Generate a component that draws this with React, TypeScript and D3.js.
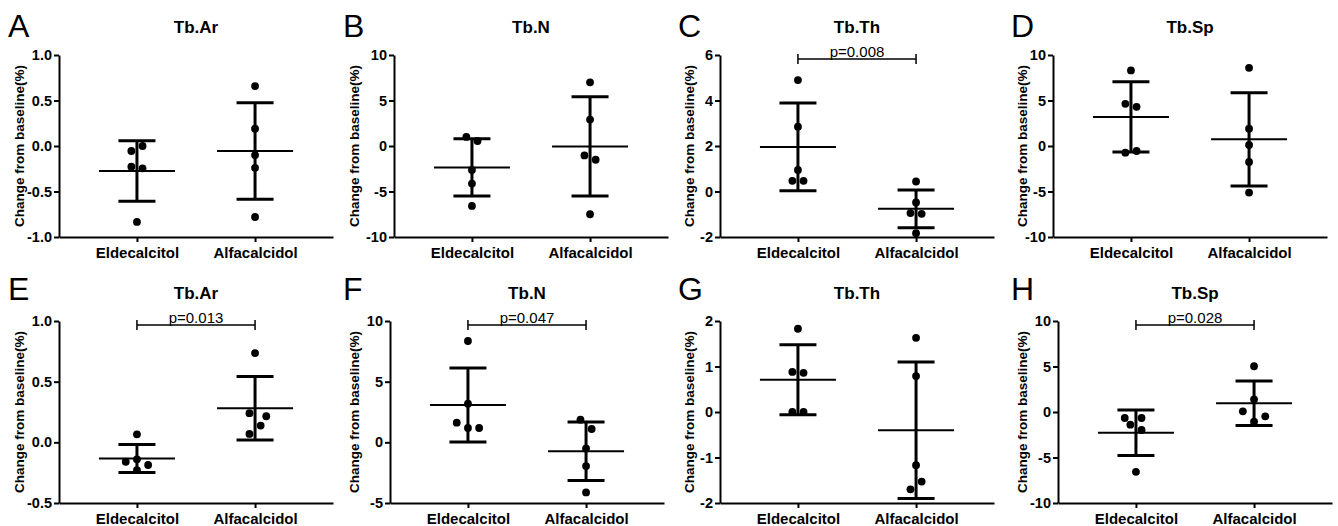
import React, { useEffect, useRef } from 'react';
import * as d3 from 'd3';

// panel info
const letters = ["A", "B", "C", "D", "E", "F", "G", "H"];
const titles = ["Tb.Ar", "Tb.N", "Tb.Th", "Tb.Sp", "Tb.Ar", "Tb.N", "Tb.Th", "Tb.Sp"];
const groups = ["Eldecalcitol", "Alfacalcidol"];
const yDomains = [[-1, 1], [-10, 10], [-2, 6], [-10, 10], [-0.5, 1], [-5, 10], [-2, 2], [-10, 10]];
const yTickSteps = [0.5, 5, 2, 5, 0.5, 5, 1, 5];
const pLabels = [null, null, "p=0.008", null, "p=0.013", "p=0.047", null, "p=0.028"];

// individual values (5 per group)
const eldValues = [
  [-0.055, 0.0, -0.227, -0.245, -0.834],
  [1.0, 0.55, -2.63, -4.13, -6.58],
  [4.9, 2.85, 0.95, 0.47, 0.47],
  [8.3, 4.64, 4.31, -0.73, -0.55],
  [0.066, -0.14, -0.16, -0.187, -0.229],
  [8.35, 3.19, 1.62, 1.18, 1.18],
  [1.83, 0.88, 0.86, 0.0, 0.0],
  [-0.66, -0.66, -1.39, -1.98, -6.57],
];
const alfValues = [
  [0.658, 0.19, -0.1, -0.24, -0.78],
  [7.0, 2.9, -1.04, -1.51, -7.5],
  [0.44, -0.48, -0.95, -0.98, -1.83],
  [8.59, 1.9, 0.11, -1.75, -5.12],
  [0.736, 0.24, 0.215, 0.138, 0.069],
  [1.87, 1.1, -0.5, -1.96, -4.13],
  [1.63, 0.79, -1.17, -1.53, -1.7],
  [5.03, 1.39, 0.07, -0.48, -1.06],
];
// scatter slot of each dot (sideways spreading of overlapping dots)
const eldSlots = [
  [-1, 1, -1, 1, 0],
  [-1, 1, 0, 0, 0],
  [0, 0, 0, -1, 1],
  [0, -1, 1, -1, 1],
  [0, 0, -2, 2, 0],
  [0, 0, -2, 0, 2],
  [0, -1, 1, -1, 1],
  [-2, 1, -1, 1, 0],
];
const alfSlots = [
  [0, 0, 0, 0, 0],
  [0, 0, -1, 1, 0],
  [0, 0, -1, 1, 0],
  [0, 0, 0, 0, 0],
  [0, -1, 2, 1, -1],
  [-1, 1, 0, 0, 0],
  [0, 0, 0, 1, -1],
  [0, 0, -2, 2, 0],
];
// mean and SD as shown
const eldMean = [-0.274, -2.35, 1.96, 3.2, -0.133, 3.08, 0.71, -2.28];
const eldSD = [0.333, 3.15, 1.93, 3.86, 0.115, 3.05, 0.77, 2.49];
const alfMean = [-0.055, -0.05, -0.76, 0.73, 0.281, -0.74, -0.4, 0.97];
const alfSD = [0.53, 5.45, 0.83, 5.12, 0.262, 2.41, 1.5, 2.45];

const font = "'Liberation Sans', Arial, sans-serif";

const App = () => {
  const ref = useRef(null);

  useEffect(() => {
    document.body.style.margin = "0";
    const svg = d3.select(ref.current);
    svg.selectAll("*").remove();

    const panelX = [0, 335, 670, 1003];
    const axisOffset = [59, 59, 50, 50, 59, 55, 50, 55];
    const rowTop = [55, 321];
    const letterBase = [37, 300];
    const plotW = 274, plotH = 182;
    const slotStep = 5.6;

    titles.forEach((title, i) => {
      const row = Math.floor(i / 4), col = i % 4;
      const left = panelX[col] + axisOffset[i];
      const top = rowTop[row];

      // panel letter
      svg.append("text")
        .attr("x", panelX[col] + 8)
        .attr("y", letterBase[row])
        .attr("font-family", font)
        .attr("font-size", 32)
        .text(letters[i]);

      // y axis title
      svg.append("text")
        .attr("transform", `translate(${panelX[col] + 19},${top + plotH / 2}) rotate(-90)`)
        .attr("text-anchor", "middle")
        .attr("dominant-baseline", "central")
        .attr("font-family", font)
        .attr("font-weight", "bold")
        .attr("font-size", 13.5)
        .text("Change from baseline(%)");

      const g = svg.append("g").attr("transform", `translate(${left},${top})`);

      const y = d3.scaleLinear().domain(yDomains[i]).range([plotH, 0]);
      const x = d3.scalePoint().domain(groups).range([0, plotW]).padding(0.66);

      g.append("text")
        .attr("x", plotW / 2)
        .attr("y", -22)
        .attr("text-anchor", "middle")
        .attr("font-family", font)
        .attr("font-weight", "bold")
        .attr("font-size", 17)
        .text(title);

      const [lo, hi] = yDomains[i];
      const step = yTickSteps[i];
      const ticks = d3.range(lo, hi + step / 2, step);
      const yAxis = g.append("g")
        .call(d3.axisLeft(y)
          .tickValues(ticks)
          .tickFormat(d => step < 1 ? d.toFixed(1) : String(d))
          .tickSize(5)
          .tickSizeOuter(0)
          .tickPadding(2));
      yAxis.selectAll("text")
        .attr("font-family", font)
        .attr("font-weight", "bold")
        .attr("font-size", 14.5)
        .attr("fill", "#000");

      const xAxis = g.append("g")
        .attr("transform", `translate(0,${plotH})`)
        .call(d3.axisBottom(x).tickSize(5).tickSizeOuter(0).tickPadding(5));
      xAxis.selectAll("text")
        .attr("font-family", font)
        .attr("font-weight", "bold")
        .attr("font-size", 15)
        .attr("fill", "#000");

      [yAxis, xAxis].forEach(a => {
        a.select(".domain").attr("stroke", "#000").attr("stroke-width", 2);
        a.selectAll(".tick line").attr("stroke", "#000").attr("stroke-width", 2);
      });

      const sets = [
        { name: groups[0], vals: eldValues[i], slots: eldSlots[i], mean: eldMean[i], sd: eldSD[i] },
        { name: groups[1], vals: alfValues[i], slots: alfSlots[i], mean: alfMean[i], sd: alfSD[i] },
      ];

      sets.forEach(s => {
        const cx = x(s.name);
        const bars = g.append("g").attr("stroke", "#000");
        bars.append("line")
          .attr("x1", cx).attr("x2", cx)
          .attr("y1", y(s.mean - s.sd)).attr("y2", y(s.mean + s.sd))
          .attr("stroke-width", 3);
        [s.mean - s.sd, s.mean + s.sd].forEach(v => {
          bars.append("line")
            .attr("x1", cx - 18.5).attr("x2", cx + 18.5)
            .attr("y1", y(v)).attr("y2", y(v))
            .attr("stroke-width", 3);
        });
        bars.append("line")
          .attr("x1", cx - 38).attr("x2", cx + 38)
          .attr("y1", y(s.mean)).attr("y2", y(s.mean))
          .attr("stroke-width", 2);

        g.append("g").selectAll("circle")
          .data(s.vals)
          .join("circle")
          .attr("cx", (d, k) => cx + s.slots[k] * slotStep)
          .attr("cy", d => y(d))
          .attr("r", 3.9)
          .attr("fill", "#000");
      });

      if (pLabels[i]) {
        const x1 = x(groups[0]), x2 = x(groups[1]);
        const by = 4;
        const br = g.append("g").attr("stroke", "#000").attr("stroke-width", 1.5);
        br.append("line").attr("x1", x1).attr("x2", x2).attr("y1", by).attr("y2", by);
        br.append("line").attr("x1", x1).attr("x2", x1).attr("y1", by - 5).attr("y2", by + 5);
        br.append("line").attr("x1", x2).attr("x2", x2).attr("y1", by - 5).attr("y2", by + 5);
        g.append("text")
          .attr("x", (x1 + x2) / 2)
          .attr("y", by - 2.5)
          .attr("text-anchor", "middle")
          .attr("font-family", font)
          .attr("font-size", 15)
          .text(pLabels[i]);
      }
    });
  }, []);

  return (
    <svg ref={ref} width={1338} height={526} style={{ display: "block", background: "#fff" }}></svg>
  );
};

export default App;
